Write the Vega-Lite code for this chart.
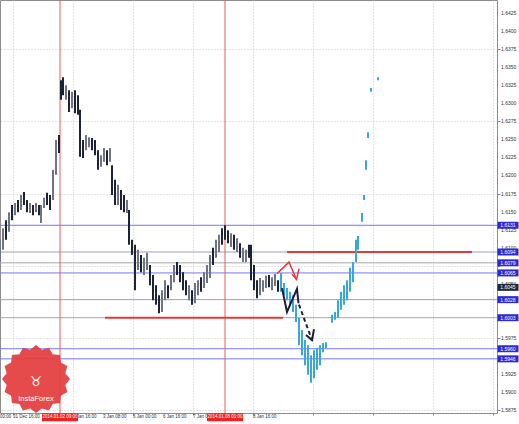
{
"$schema":"https://vega.github.io/schema/vega-lite/v6.json",
"width":497,"height":413,
"autosize":{"type":"none"},
"padding":{"left":0,"top":0,"right":22,"bottom":11},
"background":"#ffffff",
"config":{
 "view":{"stroke":"#8c8c8c","strokeWidth":1},
 "axis":{"domain":false,"tickColor":"#888888","gridColor":"#c8c8c8","gridDash":[1,2],"title":null,"labels":false,"grid":true},
 "axisX":{"tickSize":2},
 "axisY":{"tickSize":3}
},
"resolve":{"scale":{"color":"independent"}},
"datasets":{
 "bars":[
{"t":0,"p":1.6080,"hi":1.6111,"s":"g"},{"t":3,"p":1.6097,"hi":1.6127,"s":"g"},{"t":6,"p":1.6111,"hi":1.6138,"s":"d"},{"t":9,"p":1.6122,"hi":1.6149,"s":"g"},{"t":12,"p":1.6138,"hi":1.6159,"s":"d"},{"t":15,"p":1.6145,"hi":1.6162,"s":"g"},{"t":18,"p":1.6149,"hi":1.6166,"s":"d"},{"t":21,"p":1.6152,"hi":1.6173,"s":"g"},{"t":24,"p":1.6159,"hi":1.6177,"s":"d"},{"t":27,"p":1.6149,"hi":1.6166,"s":"d"},{"t":30,"p":1.6148,"hi":1.6162,"s":"g"},{"t":33,"p":1.6145,"hi":1.6159,"s":"d"},{"t":36,"p":1.6149,"hi":1.6162,"s":"g"},{"t":39,"p":1.6145,"hi":1.6159,"s":"d"},{"t":41,"p":1.6134,"hi":1.6159,"s":"g"},{"t":44,"p":1.6155,"hi":1.6169,"s":"g"},{"t":47,"p":1.6159,"hi":1.6176,"s":"d"},{"t":50,"p":1.6152,"hi":1.6173,"s":"d"},{"t":53,"p":1.6166,"hi":1.6208,"s":"g"},{"t":56,"p":1.6201,"hi":1.6249,"s":"g"},{"t":59,"p":1.6231,"hi":1.6256,"s":"d"},{"t":61,"p":1.6305,"hi":1.6332,"s":"d"},{"t":63,"p":1.6311,"hi":1.6336,"s":"d"},{"t":66,"p":1.6305,"hi":1.6325,"s":"g"},{"t":69,"p":1.6288,"hi":1.6318,"s":"d"},{"t":72,"p":1.6293,"hi":1.6316,"s":"g"},{"t":75,"p":1.6286,"hi":1.6318,"s":"d"},{"t":78,"p":1.6284,"hi":1.6311,"s":"d"},{"t":80,"p":1.6226,"hi":1.6291,"s":"d"},{"t":83,"p":1.6224,"hi":1.6249,"s":"d"},{"t":86,"p":1.6235,"hi":1.6256,"s":"g"},{"t":89,"p":1.6239,"hi":1.6253,"s":"g"},{"t":92,"p":1.6235,"hi":1.6252,"s":"d"},{"t":95,"p":1.6228,"hi":1.6249,"s":"d"},{"t":98,"p":1.6208,"hi":1.6235,"s":"d"},{"t":101,"p":1.6212,"hi":1.6228,"s":"g"},{"t":104,"p":1.6219,"hi":1.6238,"s":"g"},{"t":107,"p":1.6214,"hi":1.6235,"s":"d"},{"t":110,"p":1.6219,"hi":1.6238,"s":"g"},{"t":112,"p":1.6173,"hi":1.6214,"s":"d"},{"t":115,"p":1.6159,"hi":1.6194,"s":"d"},{"t":118,"p":1.6159,"hi":1.6187,"s":"g"},{"t":121,"p":1.6152,"hi":1.6180,"s":"d"},{"t":124,"p":1.6149,"hi":1.6173,"s":"d"},{"t":127,"p":1.6148,"hi":1.6166,"s":"g"},{"t":129,"p":1.6104,"hi":1.6152,"s":"d"},{"t":132,"p":1.6090,"hi":1.6111,"s":"d"},{"t":135,"p":1.6041,"hi":1.6104,"s":"d"},{"t":138,"p":1.6069,"hi":1.6097,"s":"g"},{"t":141,"p":1.6066,"hi":1.6090,"s":"d"},{"t":144,"p":1.6062,"hi":1.6086,"s":"g"},{"t":147,"p":1.6069,"hi":1.6093,"s":"g"},{"t":150,"p":1.6048,"hi":1.6076,"s":"d"},{"t":153,"p":1.6027,"hi":1.6062,"s":"d"},{"t":156,"p":1.6021,"hi":1.6048,"s":"d"},{"t":159,"p":1.6009,"hi":1.6034,"s":"d"},{"t":162,"p":1.6011,"hi":1.6041,"s":"g"},{"t":165,"p":1.6027,"hi":1.6055,"s":"g"},{"t":168,"p":1.6030,"hi":1.6048,"s":"d"},{"t":171,"p":1.6041,"hi":1.6062,"s":"g"},{"t":174,"p":1.6052,"hi":1.6076,"s":"g"},{"t":177,"p":1.6062,"hi":1.6080,"s":"d"},{"t":180,"p":1.6052,"hi":1.6076,"s":"d"},{"t":183,"p":1.6041,"hi":1.6066,"s":"d"},{"t":186,"p":1.6034,"hi":1.6055,"s":"d"},{"t":189,"p":1.6027,"hi":1.6048,"s":"g"},{"t":192,"p":1.6021,"hi":1.6041,"s":"d"},{"t":195,"p":1.6023,"hi":1.6051,"s":"g"},{"t":198,"p":1.6034,"hi":1.6055,"s":"g"},{"t":201,"p":1.6039,"hi":1.6059,"s":"d"},{"t":204,"p":1.6044,"hi":1.6066,"s":"g"},{"t":207,"p":1.6051,"hi":1.6076,"s":"g"},{"t":210,"p":1.6058,"hi":1.6090,"s":"g"},{"t":213,"p":1.6076,"hi":1.6100,"s":"d"},{"t":216,"p":1.6086,"hi":1.6111,"s":"g"},{"t":219,"p":1.6094,"hi":1.6118,"s":"g"},{"t":222,"p":1.6104,"hi":1.6127,"s":"d"},{"t":225,"p":1.6111,"hi":1.6131,"s":"d"},{"t":228,"p":1.6106,"hi":1.6124,"s":"d"},{"t":231,"p":1.6101,"hi":1.6120,"s":"g"},{"t":234,"p":1.6097,"hi":1.6118,"s":"d"},{"t":237,"p":1.6094,"hi":1.6113,"s":"g"},{"t":240,"p":1.6086,"hi":1.6106,"s":"d"},{"t":243,"p":1.6080,"hi":1.6100,"s":"g"},{"t":246,"p":1.6080,"hi":1.6097,"s":"g"},{"t":249,"p":1.6086,"hi":1.6104,"s":"d"},{"t":251,"p":1.6055,"hi":1.6104,"s":"d"},{"t":254,"p":1.6041,"hi":1.6076,"s":"d"},{"t":257,"p":1.6030,"hi":1.6055,"s":"d"},{"t":260,"p":1.6034,"hi":1.6058,"s":"g"},{"t":263,"p":1.6039,"hi":1.6055,"s":"g"},{"t":266,"p":1.6044,"hi":1.6061,"s":"g"},{"t":269,"p":1.6045,"hi":1.6062,"s":"d"},{"t":272,"p":1.6041,"hi":1.6059,"s":"g"},{"t":275,"p":1.6047,"hi":1.6064,"s":"g"},{"t":278,"p":1.6039,"hi":1.6055,"s":"d"},
{"t":281,"p":1.6039,"hi":1.6065,"s":"c"},{"t":284,"p":1.6034,"hi":1.6051,"s":"c"},{"t":287,"p":1.6027,"hi":1.6044,"s":"c"},{"t":290,"p":1.6021,"hi":1.6039,"s":"c"},{"t":293,"p":1.6011,"hi":1.6034,"s":"c"},{"t":296,"p":1.5997,"hi":1.6021,"s":"c"},{"t":299,"p":1.5965,"hi":1.6003,"s":"c"},{"t":302,"p":1.5951,"hi":1.5986,"s":"c"},{"t":305,"p":1.5937,"hi":1.5972,"s":"c"},{"t":308,"p":1.5924,"hi":1.5965,"s":"c"},{"t":311,"p":1.5913,"hi":1.5951,"s":"c"},{"t":314,"p":1.5919,"hi":1.5958,"s":"c"},{"t":317,"p":1.5931,"hi":1.5961,"s":"c"},{"t":320,"p":1.5937,"hi":1.5965,"s":"c"},{"t":323,"p":1.5955,"hi":1.5968,"s":"c"},{"t":326,"p":1.5961,"hi":1.5969,"s":"c"},{"t":332,"p":1.5996,"hi":1.6007,"s":"c"},{"t":335,"p":1.6000,"hi":1.6011,"s":"c"},{"t":338,"p":1.6003,"hi":1.6027,"s":"c"},{"t":341,"p":1.6014,"hi":1.6039,"s":"c"},{"t":344,"p":1.6021,"hi":1.6048,"s":"c"},{"t":347,"p":1.6027,"hi":1.6055,"s":"c"},{"t":350,"p":1.6039,"hi":1.6072,"s":"c"},{"t":353,"p":1.6052,"hi":1.6080,"s":"c"},{"t":356,"p":1.6080,"hi":1.6111,"s":"c"},{"t":358,"p":1.6097,"hi":1.6116,"s":"c"},{"t":362,"p":1.6136,"hi":1.6148,"s":"c"},{"t":364,"p":1.6166,"hi":1.6173,"s":"c"},{"t":366,"p":1.6208,"hi":1.6221,"s":"c"},{"t":368,"p":1.6252,"hi":1.6260,"s":"c"},{"t":371,"p":1.6316,"hi":1.6321,"s":"c"},{"t":378,"p":1.6332,"hi":1.6336,"s":"c"}
 ],
 "hlines":[
  {"p":1.6131,"c":"b"},{"p":1.6094,"c":"g"},{"p":1.6079,"c":"n"},{"p":1.6065,"c":"b"},{"p":1.6028,"c":"g"},{"p":1.6003,"c":"n"},{"p":1.5960,"c":"b"},{"p":1.5946,"c":"b"}
 ],
 "segs":[{"t":287,"t2":472,"p":1.6094},{"t":105,"t2":283,"p":1.6003}],
 "vlines":[{"t":60,"lab":"2014.01.02 09:00"},{"t":225,"lab":"2014.01.08 01:00"}],
 "ann":[
  {"t":282,"p":1.6044,"g":"k"},{"t":287,"p":1.6011,"g":"k"},{"t":297,"p":1.6043,"g":"k"},{"t":298.5,"p":1.6023,"g":"k"},
  {"t":299,"p":1.6021,"g":"kd"},{"t":312,"p":1.5972,"g":"kd"},
  {"t":306,"p":1.5979,"g":"ka"},{"t":312,"p":1.5972,"g":"ka"},{"t":314,"p":1.5987,"g":"ka"},
  {"t":277,"p":1.6064,"g":"r"},{"t":289,"p":1.6080,"g":"r"},{"t":296.5,"p":1.6056,"g":"r"},
  {"t":292,"p":1.6063,"g":"ra"},{"t":296.5,"p":1.6056,"g":"ra"},{"t":299,"p":1.6071,"g":"ra"}
 ],
 "plabels":[
  {"p":1.6131,"lab":"1.6131","k":"b"},{"p":1.6094,"lab":"1.6094","k":"b"},{"p":1.6079,"lab":"1.6079","k":"b"},{"p":1.6065,"lab":"1.6065","k":"b"},{"p":1.6045,"lab":"1.6045","k":"d"},{"p":1.6028,"lab":"1.6028","k":"b"},{"p":1.6003,"lab":"1.6003","k":"b"},{"p":1.5960,"lab":"1.5960","k":"b"},{"p":1.5946,"lab":"1.5946","k":"b"}
 ],
 "ylab":[{"p":1.5875},{"p":1.59},{"p":1.5925},{"p":1.5975},{"p":1.605},{"p":1.61},{"p":1.6125},{"p":1.615},{"p":1.6175},{"p":1.62},{"p":1.6225},{"p":1.625},{"p":1.6275},{"p":1.63},{"p":1.6325},{"p":1.635},{"p":1.6375},{"p":1.64},{"p":1.6425}],
 "xlab":[{"t":0,"lab":"00:00"},{"t":13,"lab":"31 Dec 16:00"},{"t":73,"lab":"2 Jan 16:00"},{"t":103,"lab":"3 Jan 08:00"},{"t":133,"lab":"6 Jan 00:00"},{"t":163,"lab":"6 Jan 16:00"},{"t":193,"lab":"7 Jan 08:00"},{"t":253,"lab":"8 Jan 16:00"}],
 "logo":[{"name":"InstaForex"}]
},
"layer":[
 {"data":{"name":"bars"},"mark":{"type":"rule","strokeWidth":0,"opacity":0},
  "encoding":{
   "x":{"field":"t","type":"quantitative","scale":{"domain":[0,497],"nice":false,"zero":false},
    "axis":{"orient":"bottom","values":[13,43,73,103,133,163,193,223,253,283,313,343,373,403,433,463,493],"labels":false,"tickSize":2,"grid":true}},
   "y":{"field":"p","type":"quantitative","scale":{"domain":[1.5871,1.6443],"nice":false,"zero":false},
    "axis":{"orient":"right","values":[1.5875,1.59,1.5925,1.595,1.5975,1.6,1.6025,1.605,1.6075,1.61,1.6125,1.615,1.6175,1.62,1.6225,1.625,1.6275,1.63,1.6325,1.635,1.6375,1.64,1.6425],"labels":false,"tickSize":3,"grid":true}}}},
 {"data":{"name":"hlines"},"mark":{"type":"rule","strokeWidth":1},
  "encoding":{"y":{"field":"p","type":"quantitative","scale":{"domain":[1.5871,1.6443],"nice":false,"zero":false}},
   "color":{"field":"c","type":"nominal","scale":{"domain":["b","g","n"],"range":["#7676f4","#9c9cc6","#a6a6a6"]},"legend":null}}},
 {"data":{"name":"vlines"},"mark":{"type":"rule","strokeWidth":1,"color":"#ef5a5a"},
  "encoding":{"x":{"field":"t","type":"quantitative","scale":{"domain":[0,497],"nice":false,"zero":false}}}},
 {"data":{"name":"segs"},"mark":{"type":"rule","strokeWidth":2,"color":"#e63a3a"},
  "encoding":{"x":{"field":"t","type":"quantitative","scale":{"domain":[0,497],"nice":false,"zero":false}},"x2":{"field":"t2"},
   "y":{"field":"p","type":"quantitative","scale":{"domain":[1.5871,1.6443],"nice":false,"zero":false}}}},
 {"data":{"name":"bars"},"mark":{"type":"rule","strokeWidth":2},
  "encoding":{
   "x":{"field":"t","type":"quantitative","scale":{"domain":[0,497],"nice":false,"zero":false}},
   "y":{"field":"p","type":"quantitative","scale":{"domain":[1.5871,1.6443],"nice":false,"zero":false}},
   "y2":{"field":"hi"},
   "color":{"field":"s","type":"nominal","scale":{"domain":["d","g","c"],"range":["#1e2236","#6f7386","#36a9dc"]},"legend":null}}},
 {"data":{"name":"ann"},"transform":[{"filter":"datum.g=='k'||datum.g=='ka'"}],"mark":{"type":"line","strokeWidth":2,"color":"#1c1f3a"},
  "encoding":{"x":{"field":"t","type":"quantitative","scale":{"domain":[0,497],"nice":false,"zero":false}},
   "y":{"field":"p","type":"quantitative","scale":{"domain":[1.5871,1.6443],"nice":false,"zero":false}},"detail":{"field":"g"}}},
 {"data":{"name":"ann"},"transform":[{"filter":"datum.g=='kd'"}],"mark":{"type":"line","strokeWidth":2,"color":"#1c1f3a","strokeDash":[4,3]},
  "encoding":{"x":{"field":"t","type":"quantitative","scale":{"domain":[0,497],"nice":false,"zero":false}},
   "y":{"field":"p","type":"quantitative","scale":{"domain":[1.5871,1.6443],"nice":false,"zero":false}}}},
 {"data":{"name":"ann"},"transform":[{"filter":"datum.g=='r'||datum.g=='ra'"}],"mark":{"type":"line","strokeWidth":1.5,"color":"#e83a3a"},
  "encoding":{"x":{"field":"t","type":"quantitative","scale":{"domain":[0,497],"nice":false,"zero":false}},
   "y":{"field":"p","type":"quantitative","scale":{"domain":[1.5871,1.6443],"nice":false,"zero":false}},"detail":{"field":"g"}}},
 {"data":{"name":"ylab"},"mark":{"type":"text","color":"#333333","fontSize":5,"font":"Liberation Sans","align":"left","baseline":"middle"},
  "encoding":{"x":{"datum":501,"type":"quantitative","scale":{"domain":[0,497],"nice":false,"zero":false}},
   "y":{"field":"p","type":"quantitative","scale":{"domain":[1.5871,1.6443],"nice":false,"zero":false}},
   "text":{"field":"p","type":"quantitative","format":".4f"}}},
 {"data":{"name":"xlab"},"mark":{"type":"text","color":"#333333","fontSize":4.5,"font":"Liberation Sans","align":"left","baseline":"middle"},
  "encoding":{"x":{"field":"t","type":"quantitative","scale":{"domain":[0,497],"nice":false,"zero":false}},
   "y":{"datum":1.5865,"type":"quantitative","scale":{"domain":[1.5871,1.6443],"nice":false,"zero":false}},
   "text":{"field":"lab"}}},
 {"data":{"name":"plabels"},"mark":{"type":"point","filled":true,"opacity":1,"shape":"M-1,-0.333L1,-0.333L1,0.333L-1,0.333Z","size":441,"strokeWidth":0},
  "encoding":{"x":{"datum":508,"type":"quantitative","scale":{"domain":[0,497],"nice":false,"zero":false}},
   "y":{"field":"p","type":"quantitative","scale":{"domain":[1.5871,1.6443],"nice":false,"zero":false}},
   "color":{"field":"k","type":"nominal","scale":{"domain":["b","d"],"range":["#2a2ad8","#1c2a40"]},"legend":null}}},
 {"data":{"name":"plabels"},"mark":{"type":"text","color":"#ffffff","fontSize":5,"font":"Liberation Sans","align":"center","baseline":"middle"},
  "encoding":{"x":{"datum":508,"type":"quantitative","scale":{"domain":[0,497],"nice":false,"zero":false}},
   "y":{"field":"p","type":"quantitative","scale":{"domain":[1.5871,1.6443],"nice":false,"zero":false}},"text":{"field":"lab"}}},
 {"data":{"name":"vlines"},"mark":{"type":"point","filled":true,"opacity":1,"color":"#ee2222","shape":"M-1,-0.222L1,-0.222L1,0.222L-1,0.222Z","size":1296,"strokeWidth":0},
  "encoding":{"x":{"field":"t","type":"quantitative","scale":{"domain":[0,497],"nice":false,"zero":false}},
   "y":{"datum":1.5865,"type":"quantitative","scale":{"domain":[1.5871,1.6443],"nice":false,"zero":false}}}},
 {"data":{"name":"vlines"},"mark":{"type":"text","color":"#ffffff","fontSize":4.5,"font":"Liberation Sans","align":"center","baseline":"middle"},
  "encoding":{"x":{"field":"t","type":"quantitative","scale":{"domain":[0,497],"nice":false,"zero":false}},
   "y":{"datum":1.5865,"type":"quantitative","scale":{"domain":[1.5871,1.6443],"nice":false,"zero":false}},"text":{"field":"lab"}}},
 {"data":{"name":"logo"},"mark":{"type":"point","filled":true,"opacity":0.92,"color":"#e43c3c","strokeWidth":0,"size":4624,
   "shape":"M1,0L0.863,0.172L0.924,0.383L0.732,0.489L0.707,0.707L0.489,0.732L0.383,0.924L0.172,0.863L0,1L-0.172,0.863L-0.383,0.924L-0.489,0.732L-0.707,0.707L-0.732,0.489L-0.924,0.383L-0.863,0.172L-1,0L-0.863,-0.172L-0.924,-0.383L-0.732,-0.489L-0.707,-0.707L-0.489,-0.732L-0.383,-0.924L-0.172,-0.863L0,-1L0.172,-0.863L0.383,-0.924L0.489,-0.732L0.707,-0.707L0.732,-0.489L0.924,-0.383L0.863,-0.172Z"},
  "encoding":{"x":{"datum":36,"type":"quantitative","scale":{"domain":[0,497],"nice":false,"zero":false}},
   "y":{"datum":1.5918,"type":"quantitative","scale":{"domain":[1.5871,1.6443],"nice":false,"zero":false}}}},
 {"data":{"name":"logo"},"mark":{"type":"text","color":"#ffffff","fontSize":13,"font":"DejaVu Sans","align":"center","baseline":"middle","text":"♉"},
  "encoding":{"x":{"datum":36,"type":"quantitative","scale":{"domain":[0,497],"nice":false,"zero":false}},
   "y":{"datum":1.5914,"type":"quantitative","scale":{"domain":[1.5871,1.6443],"nice":false,"zero":false}}}},
 {"data":{"name":"logo"},"mark":{"type":"text","color":"#ffffff","fontSize":7.5,"font":"Liberation Sans","align":"center","baseline":"middle"},
  "encoding":{"x":{"datum":36,"type":"quantitative","scale":{"domain":[0,497],"nice":false,"zero":false}},
   "y":{"datum":1.5890,"type":"quantitative","scale":{"domain":[1.5871,1.6443],"nice":false,"zero":false}},"text":{"field":"name"}}}
]
}
